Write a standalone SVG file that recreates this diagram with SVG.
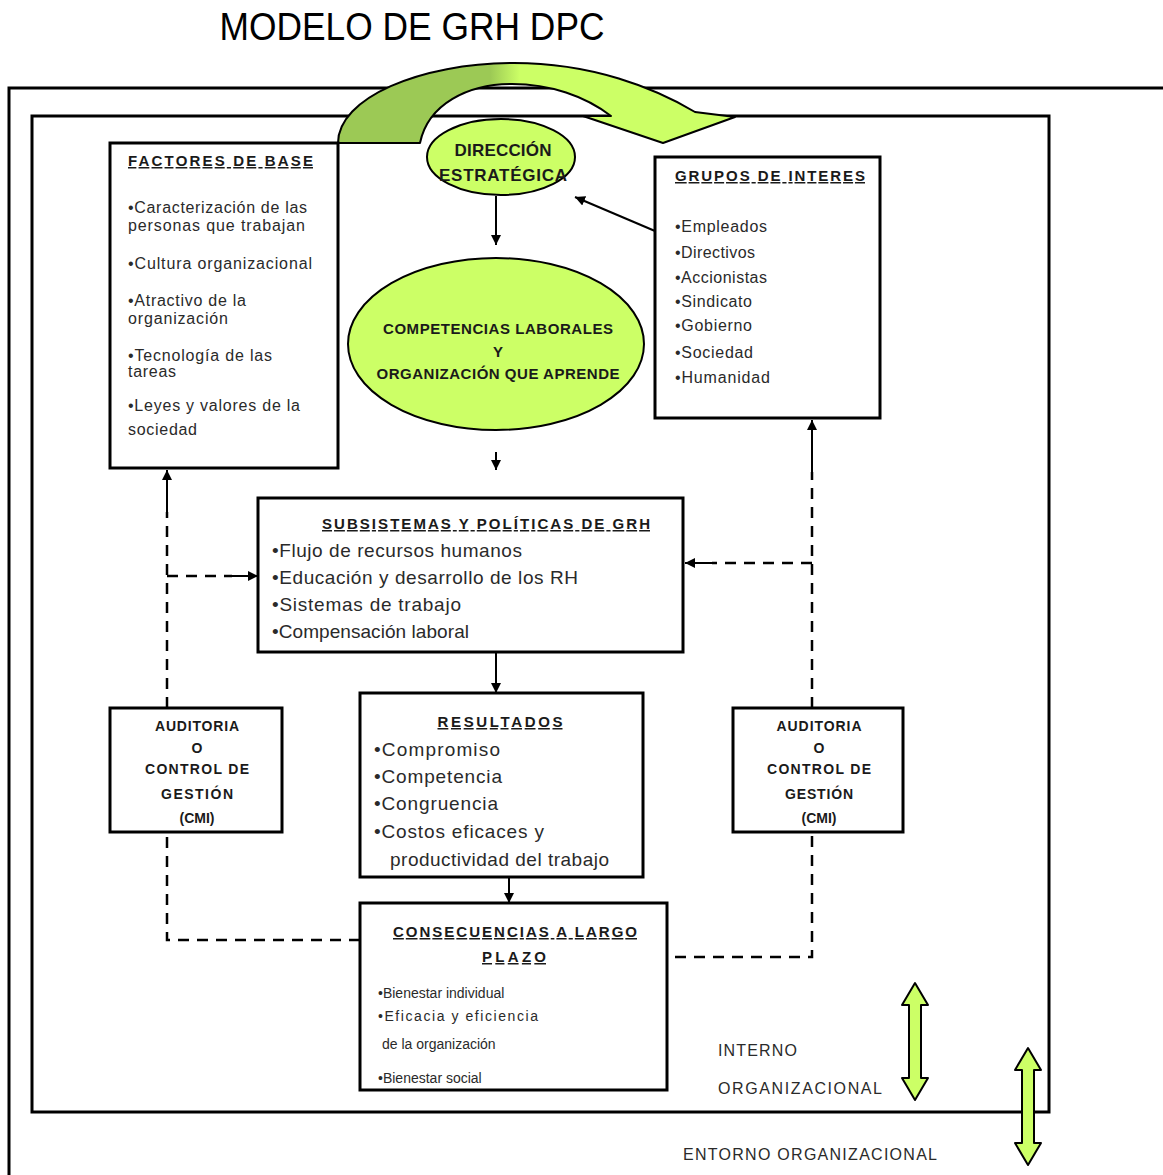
<svg xmlns="http://www.w3.org/2000/svg" width="1163" height="1175" viewBox="0 0 1163 1175">
<style>
.frame{fill:none;stroke:#000;stroke-width:3}
.box{fill:#fff;stroke:#000;stroke-width:3}
.ell{fill:#CCFF66;stroke:#000;stroke-width:2}
.h{font-family:"Liberation Sans",Arial,sans-serif;font-weight:bold;text-decoration:underline;fill:#1a1a1a}
.t{font-family:"Liberation Sans",Arial,sans-serif;fill:#2a2a2a}
.b{font-family:"Liberation Sans",Arial,sans-serif;font-weight:bold;fill:#1a1a1a}
.dash{stroke:#000;stroke-width:2.5;stroke-dasharray:11 8;fill:none}
.sol{stroke:#000;stroke-width:2;fill:none}
.garrow{fill:#CCFF66;stroke:#000;stroke-width:2;stroke-linejoin:round}
</style>
<defs>
<marker id="ah" markerUnits="userSpaceOnUse" markerWidth="10" markerHeight="10" refX="10" refY="5" orient="auto">
<path d="M0,0 L10,5 L0,10 z" fill="#000"/>
</marker>
<linearGradient id="archg" gradientUnits="userSpaceOnUse" x1="490" y1="0" x2="520" y2="0">
<stop offset="0" stop-color="#9CC955"/>
<stop offset="1" stop-color="#CCFF66"/>
</linearGradient>
</defs>
<rect width="1163" height="1175" fill="#fff"/>
<text x="412" y="40" text-anchor="middle" font-family="'Liberation Sans',Arial,sans-serif" font-size="39" fill="#000" textLength="385" lengthAdjust="spacingAndGlyphs">MODELO DE GRH DPC</text>

<g id="frames">
<rect class="frame" x="9" y="88" width="1170" height="1100"/>
<rect class="frame" x="32" y="116" width="1017" height="996"/>
</g>

<g id="strategic-arrow">
<path d="M338,143 C338,98 420,63 514,63 C592,63 655,88 695,112 L735,117 L663,143 L583,116 L611,116 C585,96 550,84 512,84 C468,84 428,104 420,143 Z" fill="url(#archg)" stroke="#000" stroke-width="2" stroke-linejoin="round"/>
</g>

<g id="factores-de-base">
<rect class="box" x="110" y="143" width="228" height="325"/>
<text class="h" x="128" y="166" font-size="15" textLength="185">FACTORES DE BASE</text>
<text class="t" font-size="16" x="128" y="213" textLength="179">•Caracterización de las</text>
<text class="t" font-size="16" x="128" y="231" textLength="177">personas que trabajan</text>
<text class="t" font-size="16" x="128" y="269" textLength="184">•Cultura organizacional</text>
<text class="t" font-size="16" x="128" y="306" textLength="118">•Atractivo de la</text>
<text class="t" font-size="16" x="128" y="324" textLength="100">organización</text>
<text class="t" font-size="16" x="128" y="361" textLength="144">•Tecnología de las</text>
<text class="t" font-size="16" x="128" y="377" textLength="48">tareas</text>
<text class="t" font-size="16" x="128" y="411" textLength="172">•Leyes y valores de la</text>
<text class="t" font-size="16" x="128" y="435" textLength="69">sociedad</text>
</g>

<g id="direccion-estrategica">
<ellipse class="ell" cx="501" cy="157" rx="74" ry="38"/>
<text class="b" x="503" y="156" font-size="17" text-anchor="middle" textLength="97">DIRECCIÓN</text>
<text class="b" x="503" y="181" font-size="17" text-anchor="middle" textLength="128">ESTRATÉGICA</text>
</g>

<g id="grupos-de-interes">
<rect class="box" x="655" y="157" width="225" height="261"/>
<text class="h" x="675" y="181" font-size="15" textLength="190">GRUPOS DE INTERES</text>
<text class="t" font-size="16" x="675" y="232" textLength="92">•Empleados</text>
<text class="t" font-size="16" x="675" y="258" textLength="80">•Directivos</text>
<text class="t" font-size="16" x="675" y="283" textLength="92">•Accionistas</text>
<text class="t" font-size="16" x="675" y="307" textLength="77">•Sindicato</text>
<text class="t" font-size="16" x="675" y="331" textLength="77">•Gobierno</text>
<text class="t" font-size="16" x="675" y="358" textLength="78">•Sociedad</text>
<text class="t" font-size="16" x="675" y="383" textLength="95">•Humanidad</text>
</g>

<g id="competencias">
<ellipse class="ell" cx="496" cy="344" rx="148" ry="86"/>
<text class="b" x="498" y="334" font-size="15" text-anchor="middle" textLength="230">COMPETENCIAS LABORALES</text>
<text class="b" x="498" y="357" font-size="15" text-anchor="middle">Y</text>
<text class="b" x="498" y="379" font-size="15" text-anchor="middle" textLength="243">ORGANIZACIÓN QUE APRENDE</text>
</g>

<g id="subsistemas">
<rect class="box" x="258" y="498" width="425" height="154"/>
<text class="h" x="486" y="529" font-size="15" text-anchor="middle" textLength="328">SUBSISTEMAS Y POLÍTICAS DE GRH</text>
<text class="t" font-size="19" x="272" y="557" textLength="250">•Flujo de recursos humanos</text>
<text class="t" font-size="19" x="272" y="584" textLength="306">•Educación y desarrollo de los RH</text>
<text class="t" font-size="19" x="272" y="611" textLength="189">•Sistemas de trabajo</text>
<text class="t" font-size="19" x="272" y="638" textLength="197">•Compensación laboral</text>
</g>

<g id="auditoria-izq">
<rect class="box" x="110" y="708" width="172" height="124"/>
<text class="b" font-size="14" x="197" y="731" text-anchor="middle" textLength="84">AUDITORIA</text>
<text class="b" font-size="14" x="197" y="753" text-anchor="middle">O</text>
<text class="b" font-size="14" x="197" y="774" text-anchor="middle" textLength="104">CONTROL DE</text>
<text class="b" font-size="14" x="197" y="799" text-anchor="middle" textLength="72">GESTIÓN</text>
<text class="b" font-size="14" x="197" y="823" text-anchor="middle">(CMI)</text>
</g>

<g id="resultados">
<rect class="box" x="360" y="693" width="283" height="184"/>
<text class="h" x="500" y="727" font-size="15" text-anchor="middle" textLength="125">RESULTADOS</text>
<text class="t" font-size="19" x="374" y="756" textLength="126">•Compromiso</text>
<text class="t" font-size="19" x="374" y="783" textLength="128">•Competencia</text>
<text class="t" font-size="19" x="374" y="810" textLength="124">•Congruencia</text>
<text class="t" font-size="19" x="374" y="838" textLength="170">•Costos eficaces y</text>
<text class="t" font-size="19" x="390" y="866" textLength="219">productividad del trabajo</text>
</g>

<g id="auditoria-der">
<rect class="box" x="733" y="708" width="170" height="124"/>
<text class="b" font-size="14" x="819" y="731" text-anchor="middle" textLength="85">AUDITORIA</text>
<text class="b" font-size="14" x="819" y="753" text-anchor="middle">O</text>
<text class="b" font-size="14" x="819" y="774" text-anchor="middle" textLength="104">CONTROL DE</text>
<text class="b" font-size="14" x="819" y="799" text-anchor="middle" textLength="68">GESTIÓN</text>
<text class="b" font-size="14" x="819" y="823" text-anchor="middle">(CMI)</text>
</g>

<g id="consecuencias">
<rect class="box" x="360" y="903" width="307" height="187"/>
<text class="h" x="515" y="937" font-size="15" text-anchor="middle" textLength="244">CONSECUENCIAS A LARGO</text>
<text class="h" x="514" y="962" font-size="15" text-anchor="middle" textLength="64">PLAZO</text>
<text class="t" font-size="14" x="378" y="998">•Bienestar individual</text>
<text class="t" font-size="14" x="378" y="1021" textLength="160">•Eficacia y eficiencia</text>
<text class="t" font-size="14" x="382" y="1049">de la organización</text>
<text class="t" font-size="14" x="378" y="1083">•Bienestar social</text>
</g>

<g id="connectors">
<line class="sol" x1="496" y1="196" x2="496" y2="245" marker-end="url(#ah)"/>
<line class="sol" x1="655" y1="231" x2="575" y2="197" marker-end="url(#ah)"/>
<line class="sol" x1="496" y1="452" x2="496" y2="470" marker-end="url(#ah)"/>
<line class="sol" x1="496" y1="652" x2="496" y2="693" marker-end="url(#ah)"/>
<line class="sol" x1="509" y1="877" x2="509" y2="903" marker-end="url(#ah)"/>
<path class="dash" d="M360,940 H167 V834"/>
<path class="dash" d="M167,708 V512"/>
<line class="sol" x1="167" y1="514" x2="167" y2="470" marker-end="url(#ah)"/>
<path class="dash" d="M167,576 H232"/>
<line class="sol" x1="228" y1="576" x2="258" y2="576" marker-end="url(#ah)"/>
<path class="dash" d="M675,957 H812 V834"/>
<path class="dash" d="M812,708 V472"/>
<line class="sol" x1="812" y1="476" x2="812" y2="420" stroke-width="1.5" marker-end="url(#ah)"/>
<path class="dash" d="M812,563 H712"/>
<line class="sol" x1="716" y1="563" x2="685" y2="563" marker-end="url(#ah)"/>
</g>

<g id="interno-organizacional">
<path class="garrow" d="M915,983 L928,1005 L921,1005 L921,1078 L928,1078 L915,1100 L902,1078 L909,1078 L909,1005 L902,1005 Z"/>
<text class="t" font-size="16" x="718" y="1056" textLength="79">INTERNO</text>
<text class="t" font-size="16" x="718" y="1094" textLength="164">ORGANIZACIONAL</text>
</g>

<g id="entorno-organizacional">
<path class="garrow" d="M1028,1048 L1041,1070 L1034,1070 L1034,1143 L1041,1143 L1028,1165 L1015,1143 L1022,1143 L1022,1070 L1015,1070 Z"/>
<text class="t" font-size="16" x="683" y="1160" textLength="254">ENTORNO ORGANIZACIONAL</text>
</g>
</svg>
